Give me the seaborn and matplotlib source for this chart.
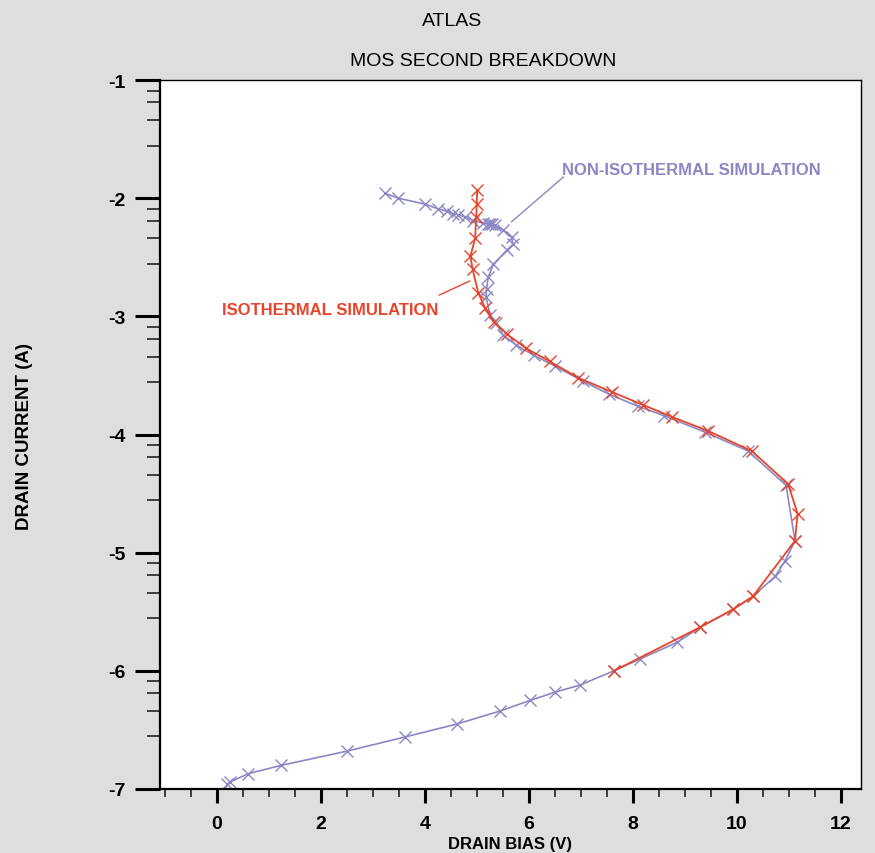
import matplotlib
matplotlib.use("Agg")
import matplotlib.pyplot as plt
from matplotlib import font_manager
import seaborn as sns
import pandas as pd

# ---- data ----
iso_x = [5.01, 5.00, 4.99, 4.97, 4.88, 4.92, 5.03, 5.16, 5.33, 5.58, 5.95, 6.40, 6.95,
         7.60, 8.20, 8.75, 9.45, 10.29, 10.99, 11.17, 11.12, 10.31, 9.93, 9.30, 7.64]
iso_y = [-1.93, -2.05, -2.16, -2.34, -2.49, -2.60, -2.80, -2.93, -3.05, -3.15, -3.27, -3.38, -3.52,
         -3.64, -3.75, -3.85, -3.97, -4.14, -4.42, -4.67, -4.90, -5.37, -5.48, -5.63, -6.00]

noniso_x = [3.24, 3.49, 4.00, 4.26, 4.42, 4.55, 4.65, 4.78, 4.93, 5.13, 5.22, 5.26, 5.30, 5.35,
            5.51, 5.67, 5.70, 5.58, 5.32, 5.22, 5.19, 5.18, 5.26, 5.38, 5.51, 5.75, 6.10, 6.50,
            7.05, 7.55, 8.10, 8.60, 9.39, 10.22, 10.95, 11.12, 10.93, 10.74, 10.31, 9.93, 9.30,
            8.85, 8.14, 7.64, 6.99, 6.51, 6.03, 5.45, 4.62, 3.62, 2.50, 1.24, 0.61, 0.26, 0.20]
noniso_y = [-1.96, -2.00, -2.05, -2.09, -2.11, -2.13, -2.14, -2.16, -2.19, -2.21, -2.22, -2.22, -2.22, -2.23,
            -2.27, -2.33, -2.39, -2.44, -2.56, -2.67, -2.77, -2.84, -2.99, -3.06, -3.16, -3.24, -3.33, -3.42,
            -3.55, -3.66, -3.76, -3.84, -3.98, -4.14, -4.43, -4.90, -5.07, -5.20, -5.37, -5.48, -5.63,
            -5.76, -5.90, -6.00, -6.12, -6.18, -6.25, -6.34, -6.45, -6.56, -6.68, -6.80, -6.87, -6.94, -6.96]

x_ticks = [0, 2, 4, 6, 8, 10, 12]
y_ticks = [-7, -6, -5, -4, -3, -2, -1]
y_minor_offsets = [0.09, 0.19, 0.34, 0.555]

RED = "#e8442a"
PURPLE = "#8a87c4"
BG = "#dedede"

sns.set_theme(style="white")
avail = {f.name for f in font_manager.fontManager.ttflist}
narrow = "Liberation Sans Narrow" if "Liberation Sans Narrow" in avail else "Liberation Sans"
plt.rcParams["font.family"] = [narrow, "DejaVu Sans"]
plt.rcParams["text.color"] = "black"

fig = plt.figure(figsize=(8.75, 8.54), dpi=100, facecolor=BG)
ax = fig.add_axes([160 / 875, 1 - 790 / 854, (861 - 160) / 875, (790 - 81) / 854])
ax.set_facecolor("white")

df_n = pd.DataFrame({"x": noniso_x, "y": noniso_y})
df_i = pd.DataFrame({"x": iso_x, "y": iso_y})
sns.lineplot(data=df_n, x="x", y="y", sort=False, estimator=None, color=PURPLE, lw=1.2,
             marker="x", markersize=8.5, markeredgewidth=1.0, markeredgecolor=PURPLE, ax=ax)
sns.lineplot(data=df_i, x="x", y="y", sort=False, estimator=None, color=RED, lw=1.3,
             marker="x", markersize=8.5, markeredgewidth=1.0, markeredgecolor=RED, ax=ax)
ax.set_xlim(-1.09, 12.39)
ax.set_ylim(-7, -1)

ax.set_xticks(x_ticks)
ax.set_xticks([v / 2 for v in range(-2, 25) if v % 4 != 0], minor=True)
ax.set_yticks(y_ticks)
ax.set_yticks([k - f for k in y_ticks[1:] for f in y_minor_offsets], minor=True)
ax.set_xticklabels([str(v) for v in x_ticks])
ax.set_yticklabels([str(v) for v in y_ticks])

ax.tick_params(axis="x", which="major", direction="out", length=10, width=2.2, pad=9,
               labelsize=14, colors="black", bottom=True)
ax.tick_params(axis="x", which="minor", direction="out", length=6, width=1.2, bottom=True, color="#222222")
ax.tick_params(axis="y", which="major", direction="out", length=18, width=2.2, pad=7,
               labelsize=14, colors="black", left=True)
ax.tick_params(axis="y", which="minor", direction="out", length=9.5, width=1.2, left=True, color="#222222")
for lab in ax.get_xticklabels() + ax.get_yticklabels():
    lab.set_fontweight("bold")

for s in ["left", "bottom"]:
    ax.spines[s].set_linewidth(1.6)
    ax.spines[s].set_color("black")
for s in ["top", "right"]:
    ax.spines[s].set_linewidth(1.0)
    ax.spines[s].set_color("black")

ax.set_xlabel("")
ax.set_ylabel("")
fig.text(510 / 875, 1 - 845 / 854, "DRAIN BIAS (V)", ha="center", va="center",
         fontsize=12, fontweight="bold", color="black")
fig.text(25 / 875, 1 - 436 / 854, "DRAIN CURRENT (A)", ha="center", va="center",
         rotation=90, fontsize=13.5, fontweight="bold", color="black")
fig.text(452 / 875, 1 - 21 / 854, "ATLAS", ha="center", va="center", fontsize=14, color="black")
fig.text(483 / 875, 1 - 61 / 854, "MOS SECOND BREAKDOWN", ha="center", va="center",
         fontsize=14, color="black")

ax.text(6.64, -1.76, "NON-ISOTHERMAL SIMULATION", color=PURPLE, fontsize=12,
        fontweight="bold", ha="left", va="center")
ax.annotate("", xy=(5.67, -2.20), xytext=(6.67, -1.82),
            arrowprops=dict(arrowstyle="-", color=PURPLE, lw=1, shrinkA=0, shrinkB=0))
ax.text(0.10, -2.945, "ISOTHERMAL SIMULATION", color=RED, fontsize=12,
        fontweight="bold", ha="left", va="center")
ax.annotate("", xy=(4.87, -2.70), xytext=(4.28, -2.82),
            arrowprops=dict(arrowstyle="-", color=RED, lw=1, shrinkA=0, shrinkB=0))

fig.savefig("out.png", dpi=100, facecolor=BG)
